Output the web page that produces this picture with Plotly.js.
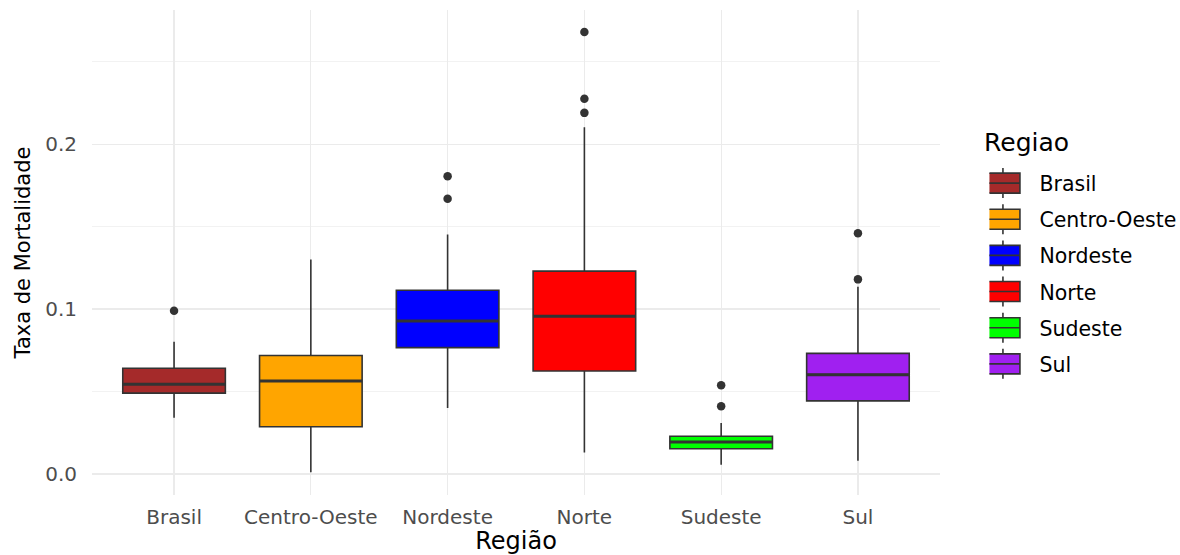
<!DOCTYPE html>
<html>
<head>
<meta charset="utf-8">
<script src="https://cdn.plot.ly/plotly-3.0.1.min.js"></script>
<style>html,body{margin:0;padding:0;background:#fff;}#chart{width:1180px;height:555px;}</style>
</head>
<body>
<div id="chart"></div>
<script>
const regions = ["Brasil", "Centro-Oeste", "Nordeste", "Norte", "Sudeste", "Sul"];
const colors = ["#A52A2A", "#FFA500", "#0000FF", "#FF0000", "#00FF00", "#A020F0"];
const lowerWhisker = [0.034, 0.001, 0.040, 0.013, 0.0055, 0.008];
const q1Vals = [0.049, 0.0286, 0.0766, 0.0624, 0.0153, 0.0443];
const medianVals = [0.0544, 0.0563, 0.0927, 0.0957, 0.0194, 0.0602];
const q3Vals = [0.0641, 0.0718, 0.1114, 0.1230, 0.0228, 0.0731];
const upperWhisker = [0.0802, 0.130, 0.1452, 0.2103, 0.0308, 0.1135];
const outliers = [[0.0989], [], [0.1806, 0.1669], [0.268, 0.2275, 0.219], [0.0538, 0.0411], [0.146, 0.118]];
const tickVals = [0.0, 0.1, 0.2];
const tickLabels = ["0.0", "0.1", "0.2"];

const BOXW = 0.75;
const FONT = 'DejaVu Sans, Liberation Sans, Arial, sans-serif';
const traces = [];
const pos = regions.map((r, i) => i);
regions.forEach((r, i) => {
  traces.push({
    type: 'box',
    name: r,
    x: [pos[i]],
    q1: [q1Vals[i]],
    median: [medianVals[i]],
    q3: [q3Vals[i]],
    lowerfence: [lowerWhisker[i]],
    upperfence: [upperWhisker[i]],
    width: BOXW,
    fillcolor: colors[i],
    line: {color: '#333333', width: 1.6},
    whiskerwidth: 0,
    legendgroup: r,
    hoverinfo: 'y'
  });
});
// thicker median lines (ggplot style)
const mx = [], my = [];
medianVals.forEach((m, i) => { mx.push(pos[i] - BOXW / 2, pos[i] + BOXW / 2, null); my.push(m, m, null); });
traces.push({type: 'scatter', mode: 'lines', x: mx, y: my, line: {color: '#333333', width: 3}, showlegend: false, hoverinfo: 'skip'});

const ox = [], oy = [];
outliers.forEach((arr, i) => arr.forEach(v => { ox.push(pos[i]); oy.push(v); }));
traces.push({
  type: 'scatter', mode: 'markers', x: ox, y: oy,
  marker: {color: '#333333', size: 8.5},
  showlegend: false, hoverinfo: 'y'
});

const layout = {
  width: 1180, height: 555,
  margin: {l: 92, r: 240, t: 10, b: 60, autoexpand: false},
  paper_bgcolor: '#ffffff', plot_bgcolor: '#ffffff',
  font: {family: FONT, color: '#000'},
  boxmode: 'overlay',
  xaxis: {
    type: 'linear',
    range: [-0.6, 5.6],
    tickvals: pos, ticktext: regions,
    showgrid: true, gridcolor: '#ebebeb', gridwidth: 1.2,
    zeroline: false, showline: false, ticks: '',
    ticklabelstandoff: 8,
    tickfont: {family: FONT, size: 20, color: '#4d4d4d'},
    title: {text: 'Região', font: {family: FONT, size: 24, color: '#000'}, standoff: 3}
  },
  yaxis: {
    range: [-0.0128, 0.2814],
    tickvals: tickVals, ticktext: tickLabels,
    showgrid: true, gridcolor: '#ebebeb', gridwidth: 1.2,
    minor: {tickvals: [0.05, 0.15, 0.25], showgrid: true, gridcolor: '#f2f2f2', gridwidth: 1},
    zeroline: false, showline: false, ticks: '',
    ticklabelstandoff: 14,
    tickfont: {family: FONT, size: 20, color: '#4d4d4d'},
    title: {text: 'Taxa de Mortalidade', font: {family: FONT, size: 21, color: '#000'}, standoff: 8}
  },
  legend: {
    x: 1.0583, xanchor: 'left', y: 0.684, yanchor: 'top',
    font: {family: FONT, size: 20.5, color: '#000'},
    itemwidth: 40,
    tracegroupgap: 6.5,
    bgcolor: 'rgba(0,0,0,0)'
  },
  annotations: [{
    text: 'Regiao', xref: 'paper', yref: 'paper', x: 1.0495, y: 0.7258,
    xanchor: 'left', yanchor: 'middle', showarrow: false,
    font: {family: FONT, size: 25, color: '#000'}
  }],
  showlegend: true
};

Plotly.newPlot('chart', traces, layout, {displayModeBar: false, staticPlot: true}).then(gd => {
  // ggplot-like legend key: wider box with median line and whisker stubs
  gd.querySelectorAll('.legend path.legendbox').forEach(p => {
    p.setAttribute('d', 'M-28.5,-10H5.5V10H-28.5ZM-28.5,0H5.5M-11.5,-10V-15M-11.5,10V15');
  });
});
</script>
</body>
</html>
